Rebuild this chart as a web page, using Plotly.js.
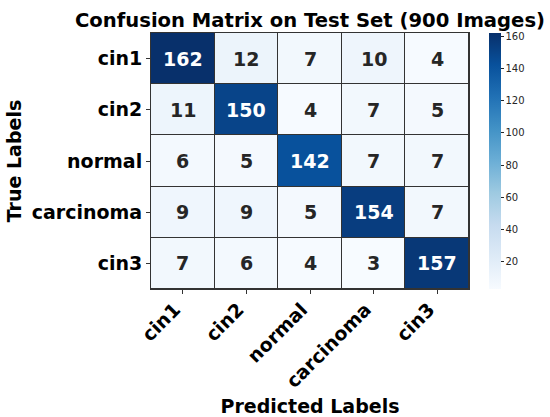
<!DOCTYPE html>
<html>
<head>
<meta charset="utf-8">
<script src="https://cdn.plot.ly/plotly-3.0.1.min.js"></script>
<style>
  body { margin: 0; background: #fff; }
  #fig { width: 550px; height: 417px; }
</style>
</head>
<body>
<div id="fig"></div>
<script>
// confusion matrix, rows = true label, cols = predicted label
var classes = ["cin1", "cin2", "normal", "carcinoma", "cin3"];
var cin1Row = [162, 12, 7, 10, 4];
var cin2Row = [11, 150, 4, 7, 5];
var normalRow = [6, 5, 142, 7, 7];
var carcinomaRow = [9, 9, 5, 154, 7];
var cin3Row = [7, 6, 4, 3, 157];
var counts = [cin1Row, cin2Row, normalRow, carcinomaRow, cin3Row];
var cbTicks = [20, 40, 60, 80, 100, 120, 140, 160];

// matplotlib Blues
var blues = [
  [0.0, "#f7fbff"], [0.125, "#deebf7"], [0.25, "#c6dbef"],
  [0.375, "#9ecae1"], [0.5, "#6baed6"], [0.625, "#4292c6"],
  [0.75, "#2171b5"], [0.875, "#08519c"], [1.0, "#08306b"]
];

var flat = [].concat.apply([], counts);
var zmin = Math.min.apply(null, flat);
var zmax = Math.max.apply(null, flat);

var fam = "DejaVu Sans, sans-serif";
var boldFont = function (size, color) {
  return {family: fam, size: size, color: color || "#000", weight: "bold"};
};

var trace = {
  type: "heatmap",
  x: classes,
  y: classes,
  z: counts,
  zmin: zmin,
  zmax: zmax,
  colorscale: blues,
  xgap: 1,
  ygap: 1,
  hoverinfo: "none",
  colorbar: {
    x: 1.063, xanchor: "left", xpad: 0,
    y: 0.5, yanchor: "middle", ypad: 0,
    len: 1, thickness: 12,
    outlinewidth: 0,
    tickvals: cbTicks,
    ticks: "outside", ticklen: 3, tickcolor: "#262626",
    tickfont: {family: fam, size: 10, color: "#262626"}
  }
};

// cell labels, white on dark cells like seaborn
var notes = [];
for (var i = 0; i < classes.length; i++) {
  for (var j = 0; j < classes.length; j++) {
    var v = counts[i][j];
    var frac = (v - zmin) / (zmax - zmin);
    notes.push({
      x: classes[j], y: classes[i], text: String(v),
      showarrow: false,
      font: boldFont(19, frac > 0.6 ? "#ffffff" : "#262626")
    });
  }
}

var layout = {
  width: 550, height: 417,
  margin: {l: 151, r: 81, t: 33, b: 128},
  paper_bgcolor: "#ffffff",
  plot_bgcolor: "#333333",
  title: {
    text: "Confusion Matrix on Test Set (900 Images)",
    font: boldFont(19.6),
    x: 0.5, xref: "paper", xanchor: "center",
    y: 1 - 20 / 417, yref: "container", yanchor: "middle"
  },
  xaxis: {
    type: "category",
    tickangle: -45,
    ticks: "outside", ticklen: 4, tickcolor: "#333",
    tickfont: boldFont(19),
    ticklabelshift: -8, ticklabelstandoff: -3,
    showline: true, linecolor: "#333", linewidth: 1, mirror: true,
    showgrid: false, zeroline: false,
    title: {text: "Predicted Labels", font: boldFont(19), standoff: 12}
  },
  yaxis: {
    type: "category",
    autorange: "reversed",
    ticks: "outside", ticklen: 4, tickcolor: "#333",
    tickfont: boldFont(19),
    showline: true, linecolor: "#333", linewidth: 1, mirror: true,
    showgrid: false, zeroline: false,
    title: {text: "True Labels", font: boldFont(19), standoff: 5}
  },
  annotations: notes
};

Plotly.newPlot("fig", [trace], layout, {staticPlot: true});
</script>
</body>
</html>
